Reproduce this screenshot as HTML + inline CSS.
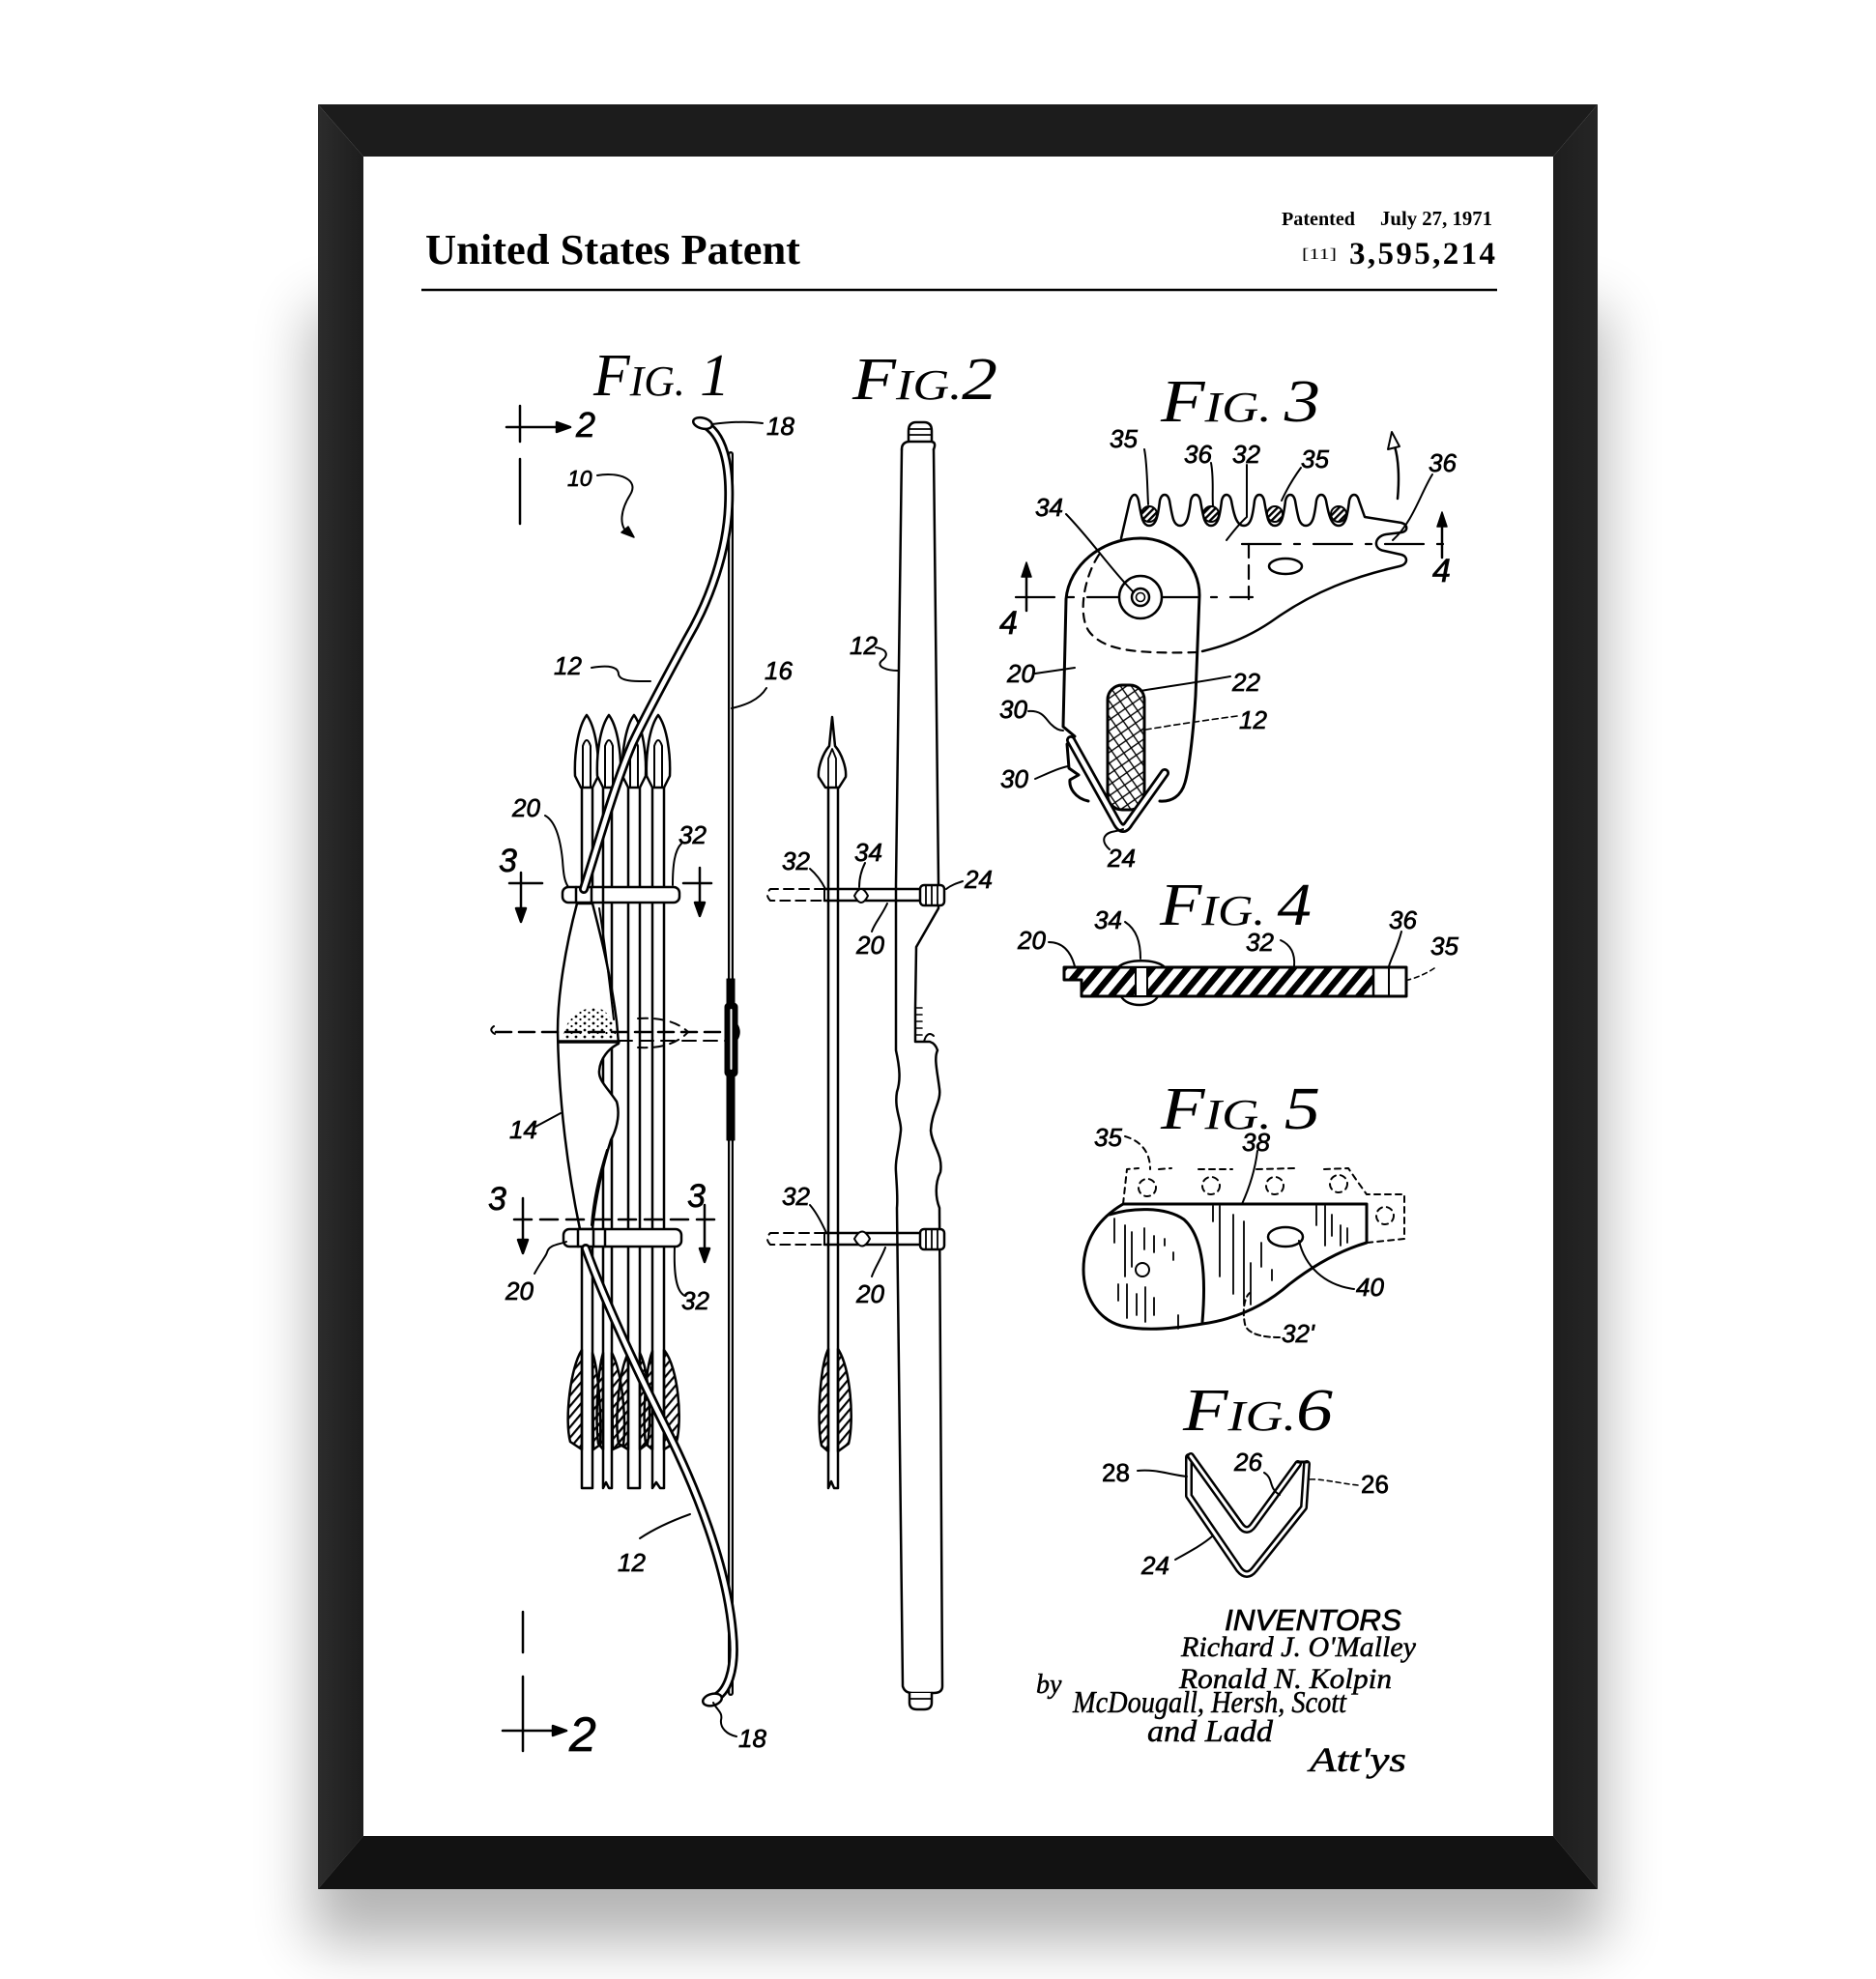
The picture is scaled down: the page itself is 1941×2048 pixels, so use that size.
<!DOCTYPE html>
<html><head><meta charset="utf-8">
<style>
html,body{margin:0;padding:0;background:#fff;}
svg{display:block;}
.l{font-family:"Liberation Sans",sans-serif;font-style:italic;font-size:26px;fill:#000;stroke:#000;stroke-width:0.7px;}
.f{font-family:"Liberation Serif",serif;font-style:italic;fill:#000;stroke:none;}
.s{font-family:"Liberation Serif",serif;font-style:italic;fill:#000;stroke:#000;stroke-width:0.5px;}
</style></head><body>
<svg width="1941" height="2048" viewBox="0 0 1941 2048" xmlns="http://www.w3.org/2000/svg">
<defs>
<filter id="bl" x="-20%" y="-20%" width="140%" height="140%"><feGaussianBlur stdDeviation="30"/></filter>
<linearGradient id="lg" x1="0" y1="0" x2="1" y2="0"><stop offset="0" stop-color="#2c2c2c"/><stop offset="1" stop-color="#1d1d1d"/></linearGradient>
<linearGradient id="rg" x1="0" y1="0" x2="1" y2="0"><stop offset="0" stop-color="#1e1e1e"/><stop offset="1" stop-color="#262626"/></linearGradient>
<pattern id="h1" patternUnits="userSpaceOnUse" width="7" height="7" patternTransform="rotate(40)"><rect width="2.2" height="7" fill="#000"/></pattern>
<pattern id="h2" patternUnits="userSpaceOnUse" width="14" height="14" patternTransform="rotate(40)"><rect width="6.5" height="14" fill="#000"/></pattern>
<pattern id="xh" patternUnits="userSpaceOnUse" width="13" height="13" patternTransform="rotate(10)"><path d="M0,0 L13,13 M13,0 L0,13" stroke="#000" stroke-width="1.4"/></pattern>
<pattern id="sp" patternUnits="userSpaceOnUse" width="9" height="7"><circle cx="2" cy="2" r="1.4" fill="#000"/><circle cx="6.5" cy="5" r="1.1" fill="#000"/></pattern>
<pattern id="ch" patternUnits="userSpaceOnUse" width="5" height="5" patternTransform="rotate(45)"><rect width="2.4" height="5" fill="#000"/></pattern>
</defs>

<rect x="0" y="0" width="1941" height="2048" fill="#ffffff"/>
<rect x="322" y="320" width="1338" height="1690" fill="#000" opacity="0.29" filter="url(#bl)"/>

<polygon points="329,108 1653,108 1607,162 376,162" fill="#1c1c1c"/>
<polygon points="329,108 376,162 376,1900 329,1955" fill="url(#lg)"/>
<polygon points="1653,108 1653,1955 1607,1900 1607,162" fill="url(#rg)"/>
<polygon points="329,1955 376,1900 1607,1900 1653,1955" fill="#121212"/>
<rect x="376" y="162" width="1231" height="1738" fill="#fff"/>

<text x="440" y="273" font-family="Liberation Serif, serif" font-weight="bold" font-size="44" textLength="388" lengthAdjust="spacingAndGlyphs">United States Patent</text>
<text x="1326" y="233" font-family="Liberation Serif, serif" font-weight="bold" font-size="20" textLength="76" lengthAdjust="spacingAndGlyphs">Patented</text>
<text x="1428" y="233" font-family="Liberation Serif, serif" font-weight="bold" font-size="21" textLength="116" lengthAdjust="spacingAndGlyphs">July 27, 1971</text>
<text x="1347" y="268" font-family="Liberation Serif, serif" font-size="16" textLength="36" lengthAdjust="spacingAndGlyphs">[11]</text>
<text x="1396" y="273" font-family="Liberation Serif, serif" font-weight="bold" font-size="33" textLength="151" lengthAdjust="spacing">3,595,214</text>
<line x1="436" y1="300" x2="1549" y2="300" stroke="#000" stroke-width="2.5"/>

<text class="f" x="614" y="409" textLength="141" lengthAdjust="spacingAndGlyphs"><tspan font-size="62">F</tspan><tspan font-size="44">IG.</tspan><tspan font-size="62"> 1</tspan></text>
<text class="f" x="882" y="413" textLength="150" lengthAdjust="spacingAndGlyphs"><tspan font-size="62">F</tspan><tspan font-size="44">IG.</tspan><tspan font-size="62">2</tspan></text>
<text class="f" x="1201" y="436" textLength="165" lengthAdjust="spacingAndGlyphs"><tspan font-size="62">F</tspan><tspan font-size="44">IG. </tspan><tspan font-size="62">3</tspan></text>
<text class="f" x="1200" y="957" textLength="157" lengthAdjust="spacingAndGlyphs"><tspan font-size="62">F</tspan><tspan font-size="44">IG. </tspan><tspan font-size="62">4</tspan></text>
<text class="f" x="1201" y="1168" textLength="165" lengthAdjust="spacingAndGlyphs"><tspan font-size="62">F</tspan><tspan font-size="44">IG. </tspan><tspan font-size="62">5</tspan></text>
<text class="f" x="1224" y="1480" textLength="155" lengthAdjust="spacingAndGlyphs"><tspan font-size="62">F</tspan><tspan font-size="44">IG.</tspan><tspan font-size="62">6</tspan></text>

<g fill="none" stroke="#000" stroke-width="2.5" stroke-linecap="round" stroke-linejoin="round">

<!-- FIG 1 -->
<line x1="524" y1="442" x2="580" y2="442"/>
<line x1="538" y1="420" x2="538" y2="457"/>
<path d="M590,442 L576,437 L576,447 Z" fill="#000"/>
<line x1="538" y1="475" x2="538" y2="542"/>
<path d="M618,492 C640,488 662,496 652,512 C642,528 640,544 650,552" stroke-width="2"/>
<path d="M656,556 L643,551 L650,545 Z" fill="#000" stroke-width="1.5"/>

<g fill="#fff">
<path d="M607,740 C616,752 620,780 619,803 L613,815 L601,815 L595,803 C594,780 598,752 607,740Z"/>
<path d="M630,740 C639,752 643,780 642,803 L636,815 L624,815 L618,803 C617,780 621,752 630,740Z"/>
<path d="M656,740 C665,752 669,780 668,803 L662,815 L650,815 L644,803 C643,780 647,752 656,740Z"/>
<path d="M681,740 C690,752 694,780 693,803 L687,815 L675,815 L669,803 C668,780 672,752 681,740Z"/>
</g>
<path d="M603,815 L603,772 Q607,760 611,772 L611,815" stroke-width="2"/>
<path d="M626,815 L626,772 Q630,760 634,772 L634,815" stroke-width="2"/>
<path d="M652,815 L652,772 Q656,760 660,772 L660,815" stroke-width="2"/>
<path d="M677,815 L677,772 Q681,760 685,772 L685,815" stroke-width="2"/>
<path d="M602,815 L602,1540 L613,1540 L613,815"/>
<path d="M624,815 L624,1540 L627,1534 L630,1540 L633,1540 L633,815"/>
<path d="M650,815 L650,1540 L662,1540 L662,815"/>
<path d="M675,815 L675,1540 L679,1534 L683,1540 L687,1540 L687,815"/>
<g fill="url(#h1)">
<path d="M602,1397 C590,1415 584,1470 590,1492 L602,1500 Z"/>
<path d="M613,1400 C620,1420 622,1470 621,1495 L614,1500 Z"/>
<path d="M624,1400 C618,1420 616,1470 619,1494 L624,1500 Z"/>
<path d="M633,1400 C644,1420 648,1470 645,1495 L634,1500 Z"/>
<path d="M650,1400 C640,1420 636,1470 640,1494 L650,1500 Z"/>
<path d="M662,1400 C672,1420 674,1470 670,1494 L662,1500 Z"/>
<path d="M675,1398 C667,1420 665,1470 668,1494 L675,1500 Z"/>
<path d="M687,1397 C702,1415 706,1470 700,1492 L687,1500 Z"/>
</g>

<line x1="756" y1="470" x2="756" y2="1752" stroke-width="6"/>
<line x1="756" y1="470" x2="756" y2="1752" stroke="#fff" stroke-width="1.6"/>
<path d="M752,1013 L752,1180 L760,1180 L760,1013 Z" fill="#000" stroke-width="1"/>
<rect x="750" y="1038" width="13" height="76" rx="4" fill="#000" stroke-width="1"/>
<line x1="756.5" y1="1045" x2="756.5" y2="1106" stroke="#fff" stroke-width="2"/>
<path d="M762,1060 Q767,1068 762,1076" stroke-width="2.5"/>

<path d="M597,935 C585,980 577,1030 577,1067 C578,1140 588,1215 600,1272 L613,1272 C616,1240 624,1205 632,1180 C640,1165 641,1150 638,1140 C628,1125 619,1118 620,1108 C621,1095 630,1085 640,1080 L638,1057 C632,1010 622,970 613,935 Z" fill="#fff"/>
<path d="M582,1075 C584,1055 600,1044 612,1043 C625,1042 634,1050 638,1075 Z" fill="url(#sp)" stroke="none"/>
<line x1="578" y1="1078" x2="640" y2="1078" stroke-width="3.5"/>
<path d="M620,940 C628,990 632,1030 635,1055" stroke-width="2"/>
<path d="M628,1190 C620,1215 614,1240 612,1268" stroke-width="2"/>

<path d="M511,1062 Q505,1066 512,1070" stroke-width="2"/>
<line x1="513" y1="1068" x2="752" y2="1068" stroke-dasharray="16,8"/>
<line x1="640" y1="1077" x2="752" y2="1077" stroke-dasharray="14,8" stroke-width="2"/>
<path d="M660,1054 Q695,1052 712,1068 Q695,1086 660,1084" stroke-dasharray="10,7" stroke-width="2"/>

<rect x="582" y="918" width="121" height="16" rx="6" fill="#fff"/>
<line x1="596" y1="918" x2="596" y2="934"/>
<line x1="612" y1="918" x2="612" y2="934"/>
<line x1="624" y1="918" x2="624" y2="934"/>
<rect x="583" y="1272" width="122" height="18" rx="6" fill="#fff"/>
<line x1="598" y1="1272" x2="598" y2="1290"/>
<line x1="614" y1="1272" x2="614" y2="1290"/>
<line x1="626" y1="1272" x2="626" y2="1290"/>

<path d="M727,438 C748,448 756,480 754,524 C752,570 735,620 711,661 C690,700 668,740 654,770 C635,815 620,870 604,920" stroke-width="10"/>
<path d="M727,438 C748,448 756,480 754,524 C752,570 735,620 711,661 C690,700 668,740 654,770 C635,815 620,870 604,920" stroke="#fff" stroke-width="4.5"/>
<ellipse cx="727" cy="438" rx="10" ry="5.5" transform="rotate(15 727 438)" fill="#fff"/>
<path d="M606,1292 C625,1345 660,1420 690,1480 C720,1540 752,1620 758,1690 C762,1730 752,1752 738,1758" stroke-width="10"/>
<path d="M606,1292 C625,1345 660,1420 690,1480 C720,1540 752,1620 758,1690 C762,1730 752,1752 738,1758" stroke="#fff" stroke-width="4.5"/>
<ellipse cx="737" cy="1759" rx="10" ry="6" transform="rotate(-15 737 1759)" fill="#fff"/>

<line x1="527" y1="914" x2="561" y2="914"/>
<line x1="539" y1="903" x2="539" y2="940"/>
<path d="M539,954 L534,940 L544,940 Z" fill="#000"/>
<line x1="707" y1="914" x2="736" y2="914"/>
<line x1="724" y1="898" x2="724" y2="934"/>
<path d="M724,948 L719,934 L729,934 Z" fill="#000"/>
<line x1="532" y1="1262" x2="746" y2="1262" stroke-dasharray="18,9"/>
<line x1="541" y1="1240" x2="541" y2="1283"/>
<path d="M541,1297 L536,1283 L546,1283 Z" fill="#000"/>
<line x1="729" y1="1247" x2="729" y2="1292"/>
<path d="M729,1306 L724,1292 L734,1292 Z" fill="#000"/>
<line x1="541" y1="1668" x2="541" y2="1710"/>
<line x1="541" y1="1735" x2="541" y2="1812"/>
<line x1="520" y1="1791" x2="574" y2="1791"/>
<path d="M586,1791 L572,1786 L572,1796 Z" fill="#000"/>

<g stroke-width="2">
<path d="M737,439 C760,436 775,436 789,438"/>
<path d="M612,691 C630,688 640,690 640,698 C642,706 660,705 673,705"/>
<path d="M793,712 C785,725 770,730 757,733"/>
<path d="M564,844 C575,850 580,870 582,890 C583,905 584,912 588,918"/>
<path d="M705,873 C698,880 696,895 696,916"/>
<path d="M554,1166 L580,1152"/>
<path d="M553,1318 C560,1305 565,1300 566,1296 C568,1288 578,1288 586,1285"/>
<path d="M707,1340 C700,1335 697,1320 698,1290"/>
<path d="M662,1592 C680,1580 700,1572 714,1567"/>
<path d="M738,1762 C742,1770 748,1772 746,1780 C745,1788 752,1795 762,1797"/>
</g>

<!-- FIG 2 -->
<path d="M861,742 L864,772 C871,780 876,795 875,804 L868,815 L854,815 L847,804 C846,795 851,780 858,772 Z" fill="#fff"/>
<path d="M857,815 L857,785 L861,775 L865,785 L865,815" stroke-width="1.8"/>
<path d="M857,815 L857,1540 L860,1533 L863,1540 L867,1540 L867,815"/>
<g fill="url(#h1)">
<path d="M857,1396 C848,1415 845,1475 850,1496 L857,1502 Z"/>
<path d="M867,1396 C880,1415 884,1470 878,1494 L867,1502 Z"/>
</g>
<path d="M940,457 L940,446 Q940,437 948,437 L956,437 Q964,437 964,446 L964,457" fill="#fff"/>
<line x1="941" y1="444" x2="963" y2="444" stroke-width="1.8"/>
<line x1="941" y1="450" x2="963" y2="450" stroke-width="1.8"/>
<path d="M933,465 Q933,458 940,457 L964,457 Q969,458 966,465"/>
<path d="M933,465 L927,915 L927,1087 C931,1105 932,1118 928,1130 C925,1148 933,1160 932,1170 C930,1190 926,1200 927,1213 C928,1230 929,1240 928,1250 L934,1745 Q936,1752 944,1752 L966,1752 Q975,1752 975,1745 L972,1250 C968,1240 967,1225 973,1213 C976,1195 964,1185 963,1170 C964,1150 974,1140 972,1127 C970,1110 966,1095 970,1087 Q968,1080 962,1078 L947,1078 L947,1043 L948,980 L971,940 L971,915 L966,465"/>
<path d="M948,1043 L954,1043 M948,1050 L954,1050 M948,1057 L954,1057 M948,1064 L954,1064 M948,1071 L954,1071" stroke-width="1.6"/>
<path d="M956,1078 C958,1070 962,1068 966,1072" stroke-width="2"/>
<path d="M941,1752 L941,1762 Q941,1769 949,1769 L956,1769 Q964,1769 964,1762 L964,1752" fill="#fff"/>
<line x1="942" y1="1758" x2="963" y2="1758" stroke-width="1.8"/>
<path d="M853,920 L952,920 M853,932 L952,932"/>
<path d="M853,920 L797,920 Q791,926 797,932 L853,932" stroke-dasharray="10,6" stroke-width="2"/>
<path d="M853,920 L853,932 M867,920 L867,932" stroke-width="2"/>
<path d="M884,927 Q891,913 898,927 Q891,941 884,927 Z" fill="#fff" stroke-width="2"/>
<rect x="952" y="916" width="25" height="21" rx="4" fill="#fff"/>
<path d="M958,916 L958,937 M964,916 L964,937 M970,916 L970,937" stroke-width="1.8"/>
<path d="M853,1276 L952,1276 M853,1288 L952,1288"/>
<path d="M853,1276 L797,1276 Q791,1282 797,1288 L853,1288" stroke-dasharray="10,6" stroke-width="2"/>
<path d="M853,1276 L853,1288 M867,1276 L867,1288" stroke-width="2"/>
<path d="M884,1282 Q892,1267 900,1282 Q892,1297 884,1282 Z" fill="#fff" stroke-width="2"/>
<rect x="952" y="1272" width="25" height="21" rx="4" fill="#fff"/>
<path d="M958,1272 L958,1293 M964,1272 L964,1293 M970,1272 L970,1293" stroke-width="1.8"/>
<g stroke-width="2">
<path d="M906,670 C918,672 920,678 912,684 C906,690 918,694 929,694"/>
<path d="M838,899 C845,905 850,912 854,920"/>
<path d="M895,893 C890,903 889,912 889,918"/>
<path d="M996,912 C990,914 984,916 979,920"/>
<path d="M902,964 C905,955 912,948 918,935"/>
<path d="M838,1247 C845,1255 850,1265 855,1276"/>
<path d="M902,1321 C905,1312 912,1302 916,1291"/>
</g>

<!-- FIG 3 -->
<path d="M1160,557 L1169,518 C1172,510 1176,510 1178,518 C1181,535 1182,544 1189,544 C1196,544 1198,535 1200,518 C1202,510 1208,510 1210,518 C1213,535 1214,544 1221,544 C1228,544 1230,535 1232,518 C1234,510 1240,510 1242,518 C1245,535 1246,544 1253,544 C1260,544 1262,535 1264,518 C1266,510 1272,510 1274,518 C1277,535 1280,544 1287,544 C1294,544 1296,535 1298,518 C1300,510 1306,510 1308,518 C1311,535 1312,544 1319,544 C1326,544 1328,535 1330,518 C1332,510 1338,510 1340,518 C1343,535 1344,544 1351,544 C1358,544 1360,535 1362,518 C1364,510 1370,510 1372,518 C1375,535 1378,544 1385,544 C1392,544 1394,535 1396,518 C1398,510 1404,510 1406,518 L1412,535 L1450,541 C1457,543 1457,550 1450,551 L1434,553 C1422,555 1420,568 1432,570 L1450,574 C1457,576 1457,584 1448,586 C1400,597 1360,612 1320,640 C1295,658 1270,668 1244,674" />
<g fill="url(#ch)" stroke-width="2">
<circle cx="1189" cy="532" r="8"/><circle cx="1253" cy="532" r="8"/><circle cx="1319" cy="532" r="8"/><circle cx="1385" cy="532" r="8"/>
</g>
<ellipse cx="1330" cy="586" rx="17" ry="8"/>
<path d="M1126,829 C1112,826 1106,815 1107,807 L1116,802 L1106,795 L1104,770 L1112,762 L1100,752 L1103,620 C1106,585 1140,557 1180,557 C1215,557 1241,585 1241,616 L1237,720 C1234,770 1229,800 1226,810 C1222,824 1212,830 1200,829" fill="#fff" stroke-width="3"/>
<path d="M1137,574 C1120,600 1115,640 1128,655 C1143,672 1170,677 1241,675" stroke-dasharray="9,7" stroke-width="2.2"/>
<path d="M1051,618 L1296,618" stroke-dasharray="40,14,6,14" stroke-width="2.2"/>
<path d="M1292,563 L1292,620" stroke-dasharray="14,8" stroke-width="2.2"/>
<path d="M1285,563 L1500,563" stroke-dasharray="40,14,6,14" stroke-width="2.2"/>
<circle cx="1180" cy="618" r="22" fill="#fff"/>
<circle cx="1180" cy="618" r="9"/>
<circle cx="1180" cy="618" r="4.5" stroke-width="1.6"/>
<rect x="1146" y="709" width="38" height="129" rx="15" fill="url(#xh)" stroke-width="3"/>
<path d="M1108,766 L1156,852 Q1162,862 1168,852 L1205,800" stroke-width="10"/>
<path d="M1108,766 L1156,852 Q1162,862 1168,852 L1205,800" stroke="#fff" stroke-width="4.5"/>
<line x1="1062" y1="596" x2="1062" y2="632"/>
<path d="M1062,582 L1057,597 L1067,597 Z" fill="#000" stroke-width="1.5"/>
<line x1="1492" y1="545" x2="1492" y2="577"/>
<path d="M1492,530 L1487,545 L1497,545 Z" fill="#000" stroke-width="1.5"/>
<path d="M1446,516 C1448,495 1447,475 1443,462"/>
<path d="M1440,447 L1436,465 L1448,462 Z" fill="#fff" stroke-width="2"/>
<g stroke-width="2">
<path d="M1184,465 C1187,480 1187,505 1188,522"/>
<path d="M1253,479 C1256,495 1254,510 1255,524"/>
<path d="M1290,481 L1290,535 C1282,542 1276,550 1269,559"/>
<path d="M1346,484 C1338,495 1332,505 1326,518"/>
<path d="M1482,491 C1470,510 1462,540 1441,559"/>
<path d="M1103,532 C1130,560 1150,590 1173,613"/>
<path d="M1071,697 L1112,691"/>
<path d="M1273,700 C1240,706 1210,710 1180,715"/>
<path d="M1280,741 C1250,745 1215,750 1180,756" stroke-dasharray="6,4" stroke-width="1.6"/>
<path d="M1064,736 C1080,735 1082,745 1088,750 C1093,755 1097,756 1100,756"/>
<path d="M1071,806 C1085,800 1095,795 1105,793"/>
<path d="M1148,879 C1140,872 1140,864 1150,861 C1155,860 1160,859 1162,858"/>
</g>

<!-- FIG 4 -->
<path d="M1101,1001 L1421,1001 L1421,1031 L1119,1031 L1119,1014 L1101,1014 Z" fill="url(#h2)" stroke="none"/>
<path d="M1101,1001 L1455,1001 L1455,1031 L1119,1031 L1119,1014 L1101,1014 Z" stroke-width="3"/>
<line x1="1421" y1="1001" x2="1421" y2="1031" stroke-width="2.5"/>
<line x1="1437" y1="1001" x2="1437" y2="1031" stroke-width="2"/>
<path d="M1157,1001 C1165,992 1197,992 1205,1001 Z" fill="#fff" stroke-width="2.5"/>
<path d="M1160,1031 C1166,1043 1192,1043 1198,1031 Z" fill="#fff" stroke-width="2.5"/>
<rect x="1175" y="1001" width="12" height="30" fill="#fff" stroke-width="2"/>
<g stroke-width="2">
<path d="M1085,975 C1100,975 1108,985 1112,1000"/>
<path d="M1164,954 C1176,962 1180,975 1180,992"/>
<path d="M1325,973 C1336,978 1340,988 1339,1000"/>
<path d="M1450,964 C1446,980 1440,990 1437,1000"/>
<path d="M1484,1002 C1475,1008 1465,1012 1457,1014" stroke-dasharray="5,4" stroke-width="1.6"/>
</g>

<!-- FIG 5 -->
<path d="M1162,1246 L1414,1246 L1414,1286 C1380,1296 1352,1315 1334,1329 C1310,1350 1280,1365 1244,1370 C1215,1375 1184,1378 1160,1372 C1135,1365 1121,1340 1121,1314 C1121,1285 1135,1262 1162,1246 Z" stroke-width="3"/>
<path d="M1148,1257 C1170,1250 1205,1248 1225,1262 C1245,1280 1248,1320 1244,1368" stroke-width="3"/>
<circle cx="1182" cy="1314" r="7" stroke-width="2"/>
<ellipse cx="1330" cy="1280" rx="18" ry="10" stroke-width="2.5"/>
<g stroke-width="1.8">
<path d="M1153,1261 L1153,1286 M1164,1268 L1164,1321 M1171,1275 L1171,1311 M1184,1271 L1184,1293 M1194,1279 L1194,1296 M1205,1282 L1205,1289 M1214,1296 L1214,1304 M1166,1329 L1166,1364 M1176,1339 L1176,1361 M1185,1332 L1185,1368 M1194,1343 L1194,1361 M1219,1361 L1219,1375 M1157,1329 L1157,1346"/>
<path d="M1255,1248 L1255,1264 M1262,1248 L1262,1321 M1276,1257 L1276,1339 M1287,1264 L1287,1350 M1294,1307 L1294,1350 M1305,1286 L1305,1311 M1316,1314 L1316,1325"/>
<path d="M1362,1248 L1362,1268 M1371,1248 L1371,1289 M1378,1257 L1378,1279 M1387,1268 L1387,1289 M1394,1271 L1394,1286"/>
</g>
<g stroke-dasharray="6,5" stroke-width="2">
<path d="M1162,1246 L1166,1210 L1178,1209"/>
<path d="M1199,1210 L1212,1209"/>
<path d="M1240,1210 L1275,1210"/>
<path d="M1300,1210 L1340,1209"/>
<path d="M1370,1210 L1395,1209 L1404,1222 L1414,1236 L1453,1236 L1453,1282 L1414,1286"/>
<circle cx="1187" cy="1229" r="9"/><circle cx="1253" cy="1227" r="9"/><circle cx="1319" cy="1227" r="9"/><circle cx="1385" cy="1225" r="9"/><circle cx="1433" cy="1258" r="9"/>
<path d="M1164,1176 C1178,1180 1190,1190 1190,1210"/>
</g>
<g stroke-width="2">
<path d="M1301,1191 C1298,1215 1290,1235 1285,1246"/>
<path d="M1401,1334 C1370,1330 1350,1310 1344,1284"/>
<path d="M1324,1384 C1305,1384 1290,1380 1288,1370 C1285,1355 1288,1342 1293,1338" stroke-dasharray="6,4"/>
</g>

<!-- FIG 6 -->
<path d="M1230,1508 L1230,1548 L1282,1624 Q1290,1634 1298,1624 L1349,1560 L1352,1515" stroke-width="8"/>
<path d="M1230,1508 L1230,1548 L1282,1624 Q1290,1634 1298,1624 L1349,1560 L1352,1515" stroke="#fff" stroke-width="3"/>
<path d="M1232,1507 L1283,1578 Q1290,1588 1297,1578 L1343,1515" stroke-width="8"/>
<path d="M1232,1507 L1283,1578 Q1290,1588 1297,1578 L1343,1515" stroke="#fff" stroke-width="3"/>
<path d="M1343,1513 L1352,1513" stroke-width="3"/>
<g stroke-width="2">
<path d="M1177,1522 C1195,1520 1210,1526 1228,1528"/>
<path d="M1308,1524 C1318,1530 1312,1540 1324,1547"/>
<path d="M1405,1537 C1385,1535 1368,1530 1353,1531" stroke-dasharray="5,4" stroke-width="1.6"/>
<path d="M1216,1614 C1232,1605 1245,1598 1254,1590"/>
</g>
</g>

<text class="l" x="596" y="452" style="font-size:36px">2</text>
<text class="l" x="587" y="503" style="font-size:23px">10</text>
<text class="l" x="793" y="450">18</text>
<text class="l" x="573" y="698">12</text>
<text class="l" x="791" y="703">16</text>
<text class="l" x="530" y="845">20</text>
<text class="l" x="702" y="873">32</text>
<text class="l" x="516" y="902" style="font-size:34px">3</text>
<text class="l" x="527" y="1178">14</text>
<text class="l" x="505" y="1252" style="font-size:34px">3</text>
<text class="l" x="711" y="1249" style="font-size:34px">3</text>
<text class="l" x="523" y="1345">20</text>
<text class="l" x="705" y="1355">32</text>
<text class="l" x="639" y="1626">12</text>
<text class="l" x="764" y="1808">18</text>
<text class="l" x="589" y="1812" style="font-size:50px">2</text>
<text class="l" x="879" y="677">12</text>
<text class="l" x="809" y="900">32</text>
<text class="l" x="884" y="891">34</text>
<text class="l" x="998" y="919">24</text>
<text class="l" x="886" y="987">20</text>
<text class="l" x="809" y="1247">32</text>
<text class="l" x="886" y="1348">20</text>
<text class="l" x="1148" y="463">35</text>
<text class="l" x="1225" y="479">36</text>
<text class="l" x="1275" y="479">32</text>
<text class="l" x="1346" y="484">35</text>
<text class="l" x="1478" y="488">36</text>
<text class="l" x="1071" y="534">34</text>
<text class="l" x="1042" y="706">20</text>
<text class="l" x="1275" y="715">22</text>
<text class="l" x="1282" y="754">12</text>
<text class="l" x="1034" y="743">30</text>
<text class="l" x="1035" y="815">30</text>
<text class="l" x="1146" y="897">24</text>
<text class="l" x="1034" y="656" style="font-size:34px">4</text>
<text class="l" x="1482" y="602" style="font-size:34px">4</text>
<text class="l" x="1053" y="982">20</text>
<text class="l" x="1132" y="961">34</text>
<text class="l" x="1289" y="984">32</text>
<text class="l" x="1437" y="961">36</text>
<text class="l" x="1480" y="988">35</text>
<text class="l" x="1132" y="1186">35</text>
<text class="l" x="1285" y="1191">38</text>
<text class="l" x="1403" y="1341">40</text>
<text class="l" x="1326" y="1389">32'</text>
<text class="l" x="1140" y="1533" style="font-style:normal">28</text>
<text class="l" x="1277" y="1522">26</text>
<text class="l" x="1408" y="1545" style="font-style:normal">26</text>
<text class="l" x="1181" y="1629">24</text>

<text class="l" x="1267" y="1687" style="font-size:31px" textLength="183" lengthAdjust="spacingAndGlyphs">INVENTORS</text>
<text class="s" x="1222" y="1714" font-size="30" textLength="243" lengthAdjust="spacingAndGlyphs">Richard J. O'Malley</text>
<text class="s" x="1220" y="1747" font-size="30" textLength="220" lengthAdjust="spacingAndGlyphs">Ronald N. Kolpin</text>
<text class="s" x="1072" y="1752" font-size="28">by</text>
<text class="s" x="1110" y="1772" font-size="32" textLength="283" lengthAdjust="spacingAndGlyphs">McDougall, Hersh, Scott</text>
<text class="s" x="1187" y="1802" font-size="32" textLength="130" lengthAdjust="spacingAndGlyphs">and Ladd</text>
<text class="s" x="1355" y="1833" font-size="36" textLength="100" lengthAdjust="spacingAndGlyphs">Att'ys</text>
</svg>
</body></html>
